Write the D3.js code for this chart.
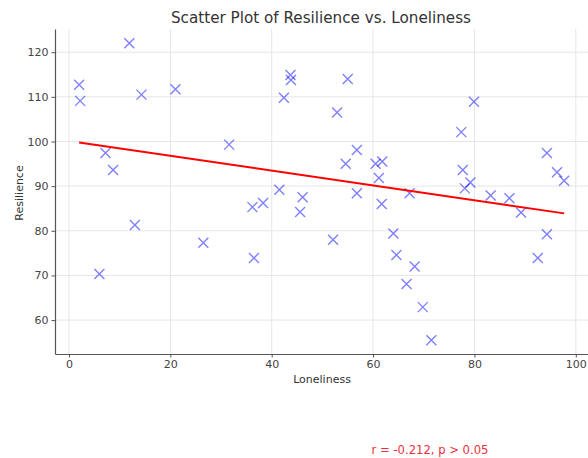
<!DOCTYPE html>
<html lang="en">
<head>
  <meta charset="utf-8">
  <title>Scatter Plot of Resilience vs. Loneliness</title>
  <style>
    body { margin: 0; background: #fff; }
    text { font-family: "DejaVu Sans", sans-serif; }
  </style>
</head>
<body>
  <script src="https://d3js.org/d3.v7.min.js"></script>
  <script>
    // data
    var loneliness = [2.0, 2.2, 11.9, 14.3, 21.0, 31.6, 7.2, 8.7, 6.0, 13.0,
                      26.5, 36.2, 38.3, 36.5, 41.5, 42.4, 43.7, 43.8, 45.6, 46.1,
                      52.9, 55.0, 56.8, 54.6, 60.5, 61.8, 61.15, 56.8, 61.7, 67.2,
                      52.1, 64.0, 64.6, 68.2, 66.6, 69.8, 71.5, 77.4, 79.9, 77.7,
                      78.1, 79.2, 83.2, 86.9, 89.2, 94.3, 96.3, 97.7, 94.3, 92.5];
    var resilience = [112.7, 109.1, 122.0, 110.5, 111.7, 99.3, 97.4, 93.6, 70.3, 81.3,
                      77.3, 85.3, 86.2, 73.9, 89.2, 109.8, 114.9, 113.8, 84.2, 87.5,
                      106.5, 114.0, 98.1, 95.0, 95.0, 95.5, 91.8, 88.4, 86.0, 88.4,
                      78.0, 79.4, 74.6, 72.0, 68.1, 62.9, 55.5, 102.1, 108.9, 93.6,
                      89.5, 90.8, 87.9, 87.3, 84.1, 97.4, 93.1, 91.2, 79.2, 73.9];
    var fitX = [2.0, 97.7];
    var fitY = [99.8, 83.9];
    var xTicks = [0, 20, 40, 60, 80, 100];
    var yTicks = [60, 70, 80, 90, 100, 110, 120];
    var statText = "r = -0.212, p > 0.05";

    var width = 588, height = 458;
    var plot = {left: 55, top: 29, bottom: 354, right: 590};

    var svg = d3.select("body").append("svg")
        .attr("width", width)
        .attr("height", height)
        .style("display", "block");

    svg.append("rect").attr("width", width).attr("height", height).attr("fill", "#fff");

    var x = d3.scaleLinear().domain([-2.76, 102.8]).range([plot.left, plot.right]);
    var y = d3.scaleLinear().domain([52.4, 125.2]).range([plot.bottom, plot.top]);

    // grid
    var grid = svg.append("g");
    grid.selectAll(".gx").data(xTicks).enter().append("line")
        .attr("x1", function(d){ return x(d); }).attr("x2", function(d){ return x(d); })
        .attr("y1", plot.top).attr("y2", plot.bottom)
        .attr("stroke", "#e6e6e6").attr("stroke-width", 1);
    grid.selectAll(".gy").data(yTicks).enter().append("line")
        .attr("x1", plot.left).attr("x2", plot.right)
        .attr("y1", function(d){ return y(d); }).attr("y2", function(d){ return y(d); })
        .attr("stroke", "#e6e6e6").attr("stroke-width", 1);

    // axes
    var xAxis = svg.append("g")
        .attr("transform", "translate(0," + plot.bottom + ")")
        .call(d3.axisBottom(x).tickValues(xTicks).tickSizeInner(3.5).tickSizeOuter(0).tickPadding(3));
    var yAxis = svg.append("g")
        .attr("transform", "translate(" + plot.left + ",0)")
        .call(d3.axisLeft(y).tickValues(yTicks).tickSizeInner(3.5).tickSizeOuter(0).tickPadding(3));

    [xAxis, yAxis].forEach(function(a){
      a.select(".domain").attr("stroke", "#555").attr("stroke-width", 1.2);
      a.selectAll(".tick line").attr("stroke", "#555");
      a.selectAll(".tick text").attr("fill", "#444").attr("font-size", 11)
        .attr("font-family", "DejaVu Sans, sans-serif");
    });

    // points
    var pts = d3.range(loneliness.length).map(function(i){ return [loneliness[i], resilience[i]]; });
    var r = 5;
    var marks = svg.append("g").selectAll("g").data(pts).enter().append("g")
        .attr("transform", function(d){ return "translate(" + x(d[0]) + "," + y(d[1]) + ")"; });
    marks.append("path")
        .attr("d", "M" + (-r) + "," + (-r) + "L" + r + "," + r + "M" + (-r) + "," + r + "L" + r + "," + (-r))
        .attr("stroke", "blue").attr("stroke-opacity", 0.5).attr("stroke-width", 1.4)
        .attr("fill", "none");

    // regression line
    var line = d3.line().x(function(d){ return x(d[0]); }).y(function(d){ return y(d[1]); });
    svg.append("path")
        .datum(fitX.map(function(v, i){ return [v, fitY[i]]; }))
        .attr("d", line)
        .attr("fill", "none")
        .attr("stroke", "red")
        .attr("stroke-width", 2);

    // labels
    svg.append("text")
        .attr("x", 321).attr("y", 23)
        .attr("text-anchor", "middle")
        .attr("font-size", 15.2)
        .attr("fill", "#333")
        .text("Scatter Plot of Resilience vs. Loneliness");

    svg.append("text")
        .attr("x", 322).attr("y", 383)
        .attr("text-anchor", "middle")
        .attr("font-size", 11)
        .attr("fill", "#333")
        .text("Loneliness");

    svg.append("text")
        .attr("transform", "translate(23,193) rotate(-90)")
        .attr("text-anchor", "middle")
        .attr("font-size", 11)
        .attr("fill", "#333")
        .text("Resilience");

    svg.append("text")
        .attr("x", 430).attr("y", 454)
        .attr("text-anchor", "middle")
        .attr("font-size", 11.6)
        .attr("fill", "#e8303a")
        .text(statText);
  </script>
</body>
</html>
